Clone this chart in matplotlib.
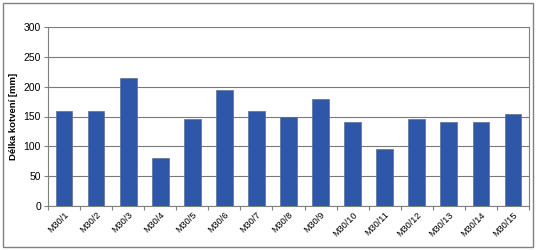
import matplotlib
matplotlib.use('Agg')
from matplotlib import pyplot as plt
from matplotlib.patches import Rectangle

# Data
labels = ['M30/1', 'M30/2', 'M30/3', 'M30/4', 'M30/5', 'M30/6', 'M30/7', 'M30/8',
          'M30/9', 'M30/10', 'M30/11', 'M30/12', 'M30/13', 'M30/14', 'M30/15']
lengths = [160, 160, 215, 80, 145, 195, 160, 150, 180, 140, 95, 145, 140, 140, 155]
y_ticks = [0, 50, 100, 150, 200, 250, 300]

plt.rcParams['font.family'] = ['Liberation Sans', 'DejaVu Sans']

W, H = 536, 250
fig = plt.figure(figsize=(W / 100, H / 100), dpi=100)
fig.patches.append(Rectangle((3 / W, 3 / H), 530 / W, 244 / H, transform=fig.transFigure,
                             fill=False, edgecolor='#808080', linewidth=1.0))

ax = fig.add_axes([48 / W, (H - 206) / H, (529 - 48) / W, (206 - 27) / H])
x = list(range(len(labels)))
ax.bar(x, lengths, width=0.52, color='#2f57a7', edgecolor='#5f6f90', linewidth=0.5, zorder=3)

ax.set_xlim(-0.5, len(labels) - 0.5)
ax.set_ylim(0, 300)
ax.set_yticks(y_ticks)
ax.tick_params(axis='y', labelsize=7.5, length=3, color='#808080', pad=2)
ax.set_xticks([i - 0.5 for i in range(len(labels) + 1)])
ax.set_xticklabels([])
ax.set_xticks(x, minor=True)
ax.set_xticklabels(labels, minor=True, rotation=45, ha='right', va='top',
                   rotation_mode='anchor', fontsize=6.6)
ax.tick_params(axis='x', which='major', length=3, color='#808080')
ax.tick_params(axis='x', which='minor', length=0, pad=3)

ax.grid(axis='y', color='#7a7a7a', linewidth=0.8, zorder=0)
ax.spines['top'].set_visible(False)
for side in ['left', 'bottom', 'right']:
    ax.spines[side].set_color('#808080')
    ax.spines[side].set_linewidth(0.8)

ax.set_ylabel('Délka kotvení [mm]', fontsize=6.8, fontweight='bold', labelpad=4)

fig.savefig('out.png', dpi=100)
